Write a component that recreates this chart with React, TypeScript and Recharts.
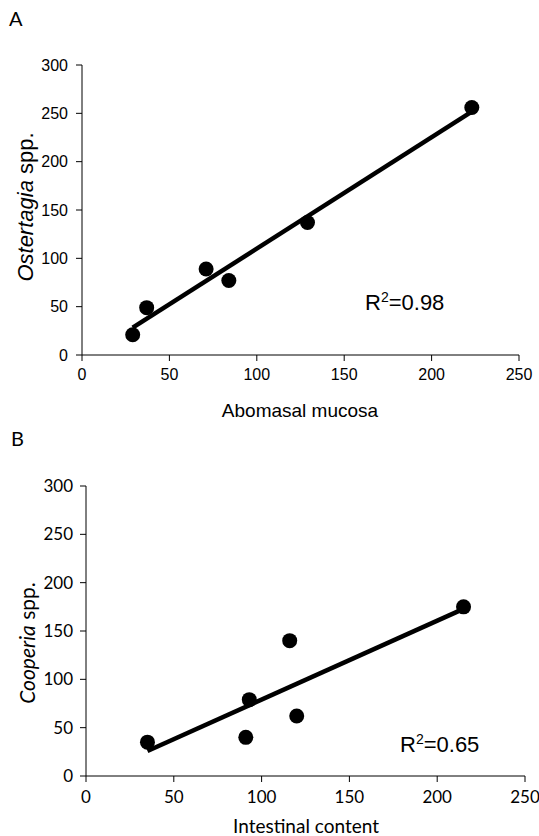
import React from "react";
import {
  ScatterChart,
  Scatter,
  XAxis,
  YAxis,
  ReferenceLine,
} from "recharts";

// Panel A: abomasal mucosa vs Ostertagia spp.
const mucosaX = [29, 37, 71, 84, 129, 223];
const ostertagiaY = [21, 49, 89, 77, 137, 256];

// Panel B: intestinal content vs Cooperia spp.
const intestinalX = [35, 91, 93, 116, 120, 215];
const cooperiaY = [35, 40, 79, 140, 62, 175];

const xTicks = [0, 50, 100, 150, 200, 250];
const yTicks = [0, 50, 100, 150, 200, 250, 300];

const toPoints = (xs: number[], ys: number[]) => xs.map((x, i) => ({ x, y: ys[i] }));

// least squares fit, drawn from min x to max x like Excel's trendline
const trend = (xs: number[], ys: number[]) => {
  const n = xs.length;
  const mx = xs.reduce((a, b) => a + b, 0) / n;
  const my = ys.reduce((a, b) => a + b, 0) / n;
  let sxy = 0;
  let sxx = 0;
  xs.forEach((x, i) => {
    sxy += (x - mx) * (ys[i] - my);
    sxx += (x - mx) * (x - mx);
  });
  const slope = sxy / sxx;
  const icpt = my - slope * mx;
  const x0 = Math.min(...xs);
  const x1 = Math.max(...xs);
  return [
    { x: x0, y: icpt + slope * x0 },
    { x: x1, y: icpt + slope * x1 },
  ];
};

const Dot = (p: any) => <circle cx={p.cx} cy={p.cy} r={7.5} fill="#000" />;

const Panel = ({ xs, ys, font, size, margin, yWidth, xHeight, height, tickGapY, tickGapX }: any) => (
  <ScatterChart width={539} height={height} margin={margin}>
    <XAxis
      type="number"
      dataKey="x"
      domain={[0, 250]}
      ticks={xTicks}
      height={xHeight}
      stroke="#000"
      tickLine={{ stroke: "#000" }}
      tickSize={6}
      tickMargin={tickGapX}
      tick={{ fill: "#000", fontFamily: font, fontSize: size }}
      allowDataOverflow
    />
    <YAxis
      type="number"
      dataKey="y"
      domain={[0, 300]}
      ticks={yTicks}
      width={yWidth}
      stroke="#000"
      tickSize={6}
      tickMargin={tickGapY}
      tick={{ fill: "#000", fontFamily: font, fontSize: size }}
      allowDataOverflow
    />
    <ReferenceLine segment={trend(xs, ys)} stroke="#000" strokeWidth={4.5} ifOverflow="visible" />
    <Scatter data={toPoints(xs, ys)} shape={Dot} isAnimationActive={false} />
  </ScatterChart>
);

const arial = "'Liberation Sans', Arial, sans-serif";
const lato = "Lato, 'Open Sans', sans-serif";

export default function App() {
  return (
    <div style={{ position: "absolute", left: 0, top: 0, width: 539, height: 836, background: "#fff" }}>
      <div style={{ position: "absolute", left: 0, top: 0 }}>
        <Panel
          xs={mucosaX}
          ys={ostertagiaY}
          font={arial}
          size={16}
          height={420}
          margin={{ top: 65, right: 20, bottom: 0, left: 0 }}
          yWidth={82}
          xHeight={65}
          tickGapY={8}
          tickGapX={8}
        />
      </div>
      <div style={{ position: "absolute", left: 0, top: 420 }}>
        <Panel
          xs={intestinalX}
          ys={cooperiaY}
          font={lato}
          size={17}
          height={416}
          margin={{ top: 66, right: 14, bottom: 0, left: 0 }}
          yWidth={86}
          xHeight={60}
          tickGapY={7}
          tickGapX={9}
        />
      </div>
      <svg
        width={539}
        height={836}
        style={{ position: "absolute", left: 0, top: 0, pointerEvents: "none" }}
      >
        <text x={9} y={26} fontFamily={lato} fontSize={20} fill="#000">A</text>
        <text x={11} y={446} fontFamily={lato} fontSize={20} fill="#000">B</text>

        <text x={300} y={417} textAnchor="middle" fontFamily={arial} fontSize={19} fill="#000">
          Abomasal mucosa
        </text>
        <text
          x={25}
          y={207}
          textAnchor="middle"
          dominantBaseline="central"
          transform="rotate(-90 25 207)"
          fontFamily={arial}
          fontSize={22}
          fill="#000"
        >
          <tspan fontStyle="italic">Ostertagia</tspan> spp.
        </text>
        <text x={365} y={310} fontFamily={arial} fontSize={22} fill="#000">
          R<tspan fontSize={14} dy={-8}>2</tspan>
          <tspan dy={8}>=0.98</tspan>
        </text>

        <text x={306} y={833} textAnchor="middle" fontFamily={lato} fontSize={19} fill="#000">
          Intestinal content
        </text>
        <text
          x={26}
          y={643}
          textAnchor="middle"
          dominantBaseline="central"
          transform="rotate(-90 26 643)"
          fontFamily={lato}
          fontSize={21}
          fill="#000"
        >
          <tspan fontStyle="italic">Cooperia</tspan> spp.
        </text>
        <text x={400} y={752} fontFamily={arial} fontSize={22} fill="#000">
          R<tspan fontSize={14} dy={-8}>2</tspan>
          <tspan dy={8}>=0.65</tspan>
        </text>
      </svg>
    </div>
  );
}
